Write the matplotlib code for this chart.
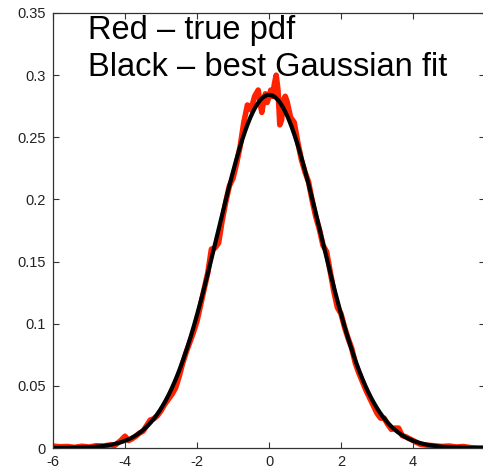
import matplotlib
matplotlib.use("Agg")
import matplotlib.pyplot as plt
import numpy as np

plt.rcParams['font.family'] = ['Liberation Sans', 'DejaVu Sans']

# red curve: true pdf
red_x = [-6.0, -5.8, -5.6, -5.4, -5.2, -5.0, -4.8, -4.6, -4.4, -4.3, -4.2, -4.1,
         -4.0, -3.9, -3.8, -3.7, -3.6, -3.5, -3.4, -3.3, -3.2, -3.1, -3.0, -2.9,
         -2.8, -2.7, -2.6, -2.5, -2.4, -2.3, -2.2, -2.1, -2.0, -1.9, -1.8, -1.7,
         -1.6, -1.5, -1.4, -1.3, -1.2, -1.1, -1.0, -0.9, -0.8, -0.7, -0.6, -0.5,
         -0.4, -0.3, -0.25, -0.2, -0.15, -0.1, -0.05, 0.0, 0.05, 0.1, 0.15, 0.2,
         0.25, 0.3, 0.35, 0.4, 0.45, 0.5, 0.6, 0.7, 0.8, 0.9, 1.0, 1.1,
         1.2, 1.3, 1.4, 1.5, 1.6, 1.7, 1.8, 1.9, 2.0, 2.1, 2.2, 2.3,
         2.4, 2.5, 2.6, 2.7, 2.8, 2.9, 3.0, 3.1, 3.2, 3.3, 3.4, 3.5,
         3.6, 3.7, 3.8, 3.9, 4.0, 4.1, 4.2, 4.4, 4.6, 4.8, 5.0, 5.2,
         5.4, 5.6, 5.8, 6.0]
red_y = [0.0015, 0.0010, 0.0012, 0.0005, 0.0014, 0.0008, 0.0018, 0.0016, 0.0025, 0.0018, 0.0040, 0.0065,
         0.0095, 0.0060, 0.0075, 0.0095, 0.0120, 0.0135, 0.0180, 0.0225, 0.0235, 0.0260, 0.0300, 0.0350,
         0.0390, 0.0430, 0.0480, 0.0570, 0.0680, 0.0770, 0.0850, 0.0930, 0.1020, 0.1150, 0.1280, 0.1410,
         0.1600, 0.1610, 0.1650, 0.1830, 0.1980, 0.2110, 0.2170, 0.2290, 0.2430, 0.2620, 0.2760, 0.2720,
         0.2830, 0.2880, 0.2780, 0.2700, 0.2790, 0.2850, 0.2780, 0.2830, 0.2880, 0.2830, 0.2930, 0.3000,
         0.2880, 0.2600, 0.2640, 0.2800, 0.2830, 0.2790, 0.2660, 0.2620, 0.2460, 0.2320, 0.2220, 0.2140,
         0.1990, 0.1860, 0.1760, 0.1630, 0.1580, 0.1420, 0.1260, 0.1130, 0.1080, 0.0970, 0.0880, 0.0800,
         0.0680, 0.0600, 0.0530, 0.0460, 0.0400, 0.0340, 0.0280, 0.0240, 0.0240, 0.0190, 0.0150, 0.0160,
         0.0160, 0.0100, 0.0090, 0.0075, 0.0060, 0.0045, 0.0030, 0.0022, 0.0018, 0.0012, 0.0016, 0.0008,
         0.0012, 0.0003, 0.0000, 0.0000]

x_ticks = [-6, -4, -2, 0, 2, 4, 6]
x_labels = ['-6', '-4', '-2', '0', '2', '4', '']
y_ticks = [0, 0.05, 0.1, 0.15, 0.2, 0.25, 0.3, 0.35]
y_labels = ['0', '0.05', '0.1', '0.15', '0.2', '0.25', '0.3', '0.35']

# best Gaussian fit via moments of the red curve
rx = np.array(red_x)
ry = np.array(red_y)
area = np.trapezoid(ry, rx)
mu = np.trapezoid(rx * ry, rx) / area
var = np.trapezoid((rx - mu) ** 2 * ry, rx) / area
fit_x = np.linspace(-6, 6, 600)
fit_y = area / np.sqrt(2 * np.pi * var) * np.exp(-(fit_x - mu) ** 2 / (2 * var))

W, H = 483, 472
fig = plt.figure(figsize=(W / 100, H / 100), dpi=100)
ax = fig.add_axes([53 / W, (H - 448) / H, (485 - 53) / W, (448 - 13) / H])

ax.plot(rx, ry, color='#ff2200', linewidth=4.0, solid_joinstyle='round')
ax.plot(fit_x, fit_y, color='black', linewidth=3.0)

ax.set_xlim(-6, 6)
ax.set_ylim(0, 0.35)
ax.set_xticks(x_ticks)
ax.set_xticklabels(x_labels)
ax.set_yticks(y_ticks)
ax.set_yticklabels(y_labels)
ax.tick_params(direction='in', length=4, width=0.8, top=True, right=True,
               labelsize=10.5, labelcolor='#222222', color='#333333', pad=5)
for s in ax.spines.values():
    s.set_linewidth(0.9)
    s.set_color('#333333')

fig.text(88 / W, 1 - 39 / H, 'Red \u2013 true pdf', fontsize=23.5, va='baseline', ha='left')
fig.text(88 / W, 1 - 76 / H, 'Black \u2013 best Gaussian fit', fontsize=23.5, va='baseline', ha='left')

fig.savefig('out.png', dpi=100)
